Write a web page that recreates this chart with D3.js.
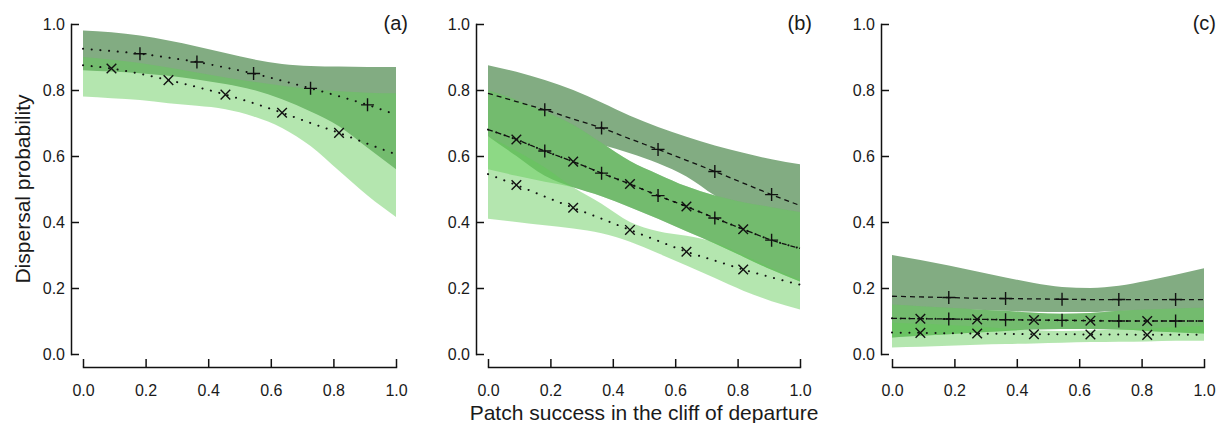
<!DOCTYPE html>
<html>
<head>
<meta charset="utf-8">
<script src="https://cdn.jsdelivr.net/npm/d3@7"></script>
<style>
  html, body { margin: 0; padding: 0; background: #fff; }
  svg { display: block; }
  text { font-family: "Liberation Sans", Arial, Helvetica, sans-serif; fill: #1a1a1a; }
</style>
</head>
<body>
<svg id="chart" width="1225" height="423"></svg>
<script>
// ---------- data ----------
const xGrid = [0, 0.091, 0.182, 0.273, 0.364, 0.455, 0.545, 0.636, 0.727, 0.818, 0.909, 1.0];
const plusMarkerIdx = [2, 4, 6, 8, 10];
const crossMarkerIdx = [1, 3, 5, 7, 9];
const xTicks = [0, 0.2, 0.4, 0.6, 0.8, 1.0];
const yTicks = [0, 0.2, 0.4, 0.6, 0.8, 1.0];
const panelLabels = ["(a)", "(b)", "(c)"];

// panel (a)
const aPlusDotMean  = [0.925, 0.918, 0.910, 0.898, 0.885, 0.868, 0.850, 0.828, 0.805, 0.781, 0.755, 0.725];
const aPlusDotHi    = [0.980, 0.975, 0.965, 0.950, 0.932, 0.912, 0.893, 0.879, 0.873, 0.871, 0.870, 0.870];
const aPlusDotLo    = [0.860, 0.856, 0.851, 0.843, 0.832, 0.818, 0.800, 0.772, 0.735, 0.690, 0.625, 0.560];
const aCrossDotMean = [0.875, 0.865, 0.849, 0.830, 0.809, 0.786, 0.760, 0.731, 0.700, 0.670, 0.637, 0.605];
const aCrossDotHi   = [0.900, 0.892, 0.882, 0.868, 0.853, 0.838, 0.825, 0.813, 0.803, 0.796, 0.792, 0.790];
const aCrossDotLo   = [0.780, 0.775, 0.770, 0.760, 0.752, 0.742, 0.720, 0.685, 0.630, 0.555, 0.480, 0.415];

// panel (b)
const bPlusDashMean  = [0.790, 0.765, 0.740, 0.712, 0.685, 0.652, 0.620, 0.587, 0.553, 0.518, 0.483, 0.450];
const bPlusDashHi    = [0.875, 0.855, 0.830, 0.800, 0.762, 0.722, 0.688, 0.658, 0.632, 0.610, 0.590, 0.575];
const bPlusDashLo    = [0.720, 0.700, 0.678, 0.655, 0.634, 0.608, 0.578, 0.538, 0.480, 0.430, 0.390, 0.350];
const bPlusDotMean   = [0.680, 0.650, 0.615, 0.583, 0.548, 0.515, 0.480, 0.447, 0.412, 0.378, 0.345, 0.320];
const bPlusDotHi     = [0.800, 0.770, 0.735, 0.695, 0.640, 0.585, 0.545, 0.508, 0.480, 0.460, 0.445, 0.430];
const bPlusDotLo     = [0.660, 0.600, 0.540, 0.505, 0.478, 0.445, 0.410, 0.372, 0.335, 0.295, 0.255, 0.220];
const bCrossDashMean = [0.680, 0.650, 0.615, 0.583, 0.548, 0.515, 0.480, 0.447, 0.412, 0.378, 0.345, 0.320];
const bCrossDashHi   = [0.800, 0.770, 0.735, 0.695, 0.640, 0.585, 0.545, 0.508, 0.480, 0.460, 0.445, 0.430];
const bCrossDashLo   = [0.560, 0.540, 0.522, 0.505, 0.478, 0.445, 0.410, 0.372, 0.335, 0.295, 0.255, 0.220];
const bCrossDotMean  = [0.545, 0.512, 0.477, 0.443, 0.410, 0.376, 0.343, 0.310, 0.283, 0.256, 0.232, 0.210];
const bCrossDotHi    = [0.660, 0.615, 0.565, 0.505, 0.455, 0.400, 0.372, 0.358, 0.338, 0.300, 0.260, 0.225];
const bCrossDotLo    = [0.410, 0.400, 0.390, 0.380, 0.366, 0.340, 0.305, 0.268, 0.230, 0.192, 0.160, 0.135];

// panel (c)
const cPlusDashMean  = [0.175, 0.173, 0.171, 0.169, 0.168, 0.167, 0.166, 0.165, 0.165, 0.165, 0.165, 0.165];
const cPlusDashHi    = [0.300, 0.285, 0.268, 0.250, 0.232, 0.215, 0.203, 0.200, 0.207, 0.222, 0.240, 0.260];
const cPlusDashLo    = [0.145, 0.142, 0.138, 0.134, 0.131, 0.128, 0.127, 0.127, 0.130, 0.132, 0.134, 0.136];
const cPlusDotMean   = [0.108, 0.107, 0.106, 0.105, 0.104, 0.103, 0.102, 0.101, 0.100, 0.100, 0.100, 0.100];
const cPlusDotHi     = [0.150, 0.145, 0.140, 0.135, 0.131, 0.125, 0.122, 0.124, 0.131, 0.135, 0.138, 0.140];
const cPlusDotLo     = [0.050, 0.055, 0.060, 0.065, 0.070, 0.074, 0.076, 0.076, 0.074, 0.070, 0.066, 0.062];
const cCrossDashMean = [0.108, 0.107, 0.106, 0.105, 0.104, 0.103, 0.102, 0.101, 0.100, 0.100, 0.100, 0.100];
const cCrossDashHi   = [0.150, 0.145, 0.140, 0.135, 0.131, 0.125, 0.122, 0.124, 0.131, 0.135, 0.138, 0.140];
const cCrossDashLo   = [0.050, 0.055, 0.060, 0.065, 0.070, 0.074, 0.076, 0.076, 0.074, 0.070, 0.066, 0.062];
const cCrossDotMean  = [0.065, 0.064, 0.063, 0.062, 0.061, 0.060, 0.060, 0.059, 0.059, 0.058, 0.058, 0.058];
const cCrossDotHi    = [0.095, 0.092, 0.088, 0.083, 0.077, 0.072, 0.070, 0.071, 0.075, 0.078, 0.082, 0.085];
const cCrossDotLo    = [0.020, 0.022, 0.025, 0.028, 0.030, 0.032, 0.034, 0.036, 0.037, 0.038, 0.040, 0.040];

// ---------- configuration built from the arrays ----------
const panels = [
  { label: panelLabels[0], yAxisX: 71, x0: 83, x1: 396, series: [
    { marker: "plus",  line: "dot",  mean: aPlusDotMean,  lo: aPlusDotLo,  hi: aPlusDotHi },
    { marker: "cross", line: "dot",  mean: aCrossDotMean, lo: aCrossDotLo, hi: aCrossDotHi } ] },
  { label: panelLabels[1], yAxisX: 476, x0: 488, x1: 800, series: [
    { marker: "plus",  line: "dash", mean: bPlusDashMean,  lo: bPlusDashLo,  hi: bPlusDashHi },
    { marker: "plus",  line: "dot",  mean: bPlusDotMean,   lo: bPlusDotLo,   hi: bPlusDotHi },
    { marker: "cross", line: "dash", mean: bCrossDashMean, lo: bCrossDashLo, hi: bCrossDashHi },
    { marker: "cross", line: "dot",  mean: bCrossDotMean,  lo: bCrossDotLo,  hi: bCrossDotHi } ] },
  { label: panelLabels[2], yAxisX: 881, x0: 892, x1: 1204, series: [
    { marker: "plus",  line: "dash", mean: cPlusDashMean,  lo: cPlusDashLo,  hi: cPlusDashHi },
    { marker: "plus",  line: "dot",  mean: cPlusDotMean,   lo: cPlusDotLo,   hi: cPlusDotHi },
    { marker: "cross", line: "dash", mean: cCrossDashMean, lo: cCrossDashLo, hi: cCrossDashHi },
    { marker: "cross", line: "dot",  mean: cCrossDotMean,  lo: cCrossDotLo,  hi: cCrossDotHi } ] }
];

const plusBandColor = "rgb(130,172,130)";
const crossBandColor = "rgb(99,203,88)";
const crossBandOpacity = 0.48;

const svg = d3.select("#chart");
const yTop = 24, yBottom = 354, xAxisY = 367;

panels.forEach(p => {
  const x = d3.scaleLinear().domain([0, 1]).range([p.x0, p.x1]);
  const y = d3.scaleLinear().domain([0, 1]).range([yBottom, yTop]);
  const g = svg.append("g");

  const area = (s) => d3.area()
    .x((d, i) => x(xGrid[i]))
    .y0((d, i) => y(s.lo[i]))
    .y1((d, i) => y(s.hi[i]))
    .curve(d3.curveMonotoneX)(xGrid);

  // bands: plus bands (opaque) first, then cross bands (translucent)
  p.series.filter(s => s.marker === "plus").forEach(s => {
    g.append("path").attr("d", area(s)).attr("fill", plusBandColor);
  });
  p.series.filter(s => s.marker === "cross").forEach(s => {
    g.append("path").attr("d", area(s)).attr("fill", crossBandColor).attr("fill-opacity", crossBandOpacity);
  });

  // lines
  p.series.forEach(s => {
    const lg = d3.line().x((d, i) => x(xGrid[i])).y((d, i) => y(s.mean[i])).curve(d3.curveMonotoneX);
    const path = g.append("path").attr("d", lg(xGrid)).attr("fill", "none").attr("stroke", "#111");
    if (s.line === "dot") {
      path.attr("stroke-width", 2).attr("stroke-linecap", "round").attr("stroke-dasharray", "0.1,8.6");
    } else {
      path.attr("stroke-width", 1.3).attr("stroke-dasharray", "5,4");
    }
  });

  // markers
  p.series.forEach(s => {
    const idx = s.marker === "plus" ? plusMarkerIdx : crossMarkerIdx;
    const sym = s.marker === "plus" ? "M-6.5,0H6.5M0,-6.5V6.5" : "M-4.8,-4.8L4.8,4.8M-4.8,4.8L4.8,-4.8";
    g.selectAll(null).data(idx).enter().append("path")
      .attr("transform", i => `translate(${x(xGrid[i])},${y(s.mean[i])})`)
      .attr("d", sym).attr("fill", "none").attr("stroke", "#111").attr("stroke-width", 1.4);
  });

  // y axis
  const ya = g.append("g").attr("transform", `translate(${p.yAxisX},0)`)
    .call(d3.axisLeft(y).tickValues(yTicks).tickFormat(d3.format(".1f"))
      .tickSizeInner(-8).tickSizeOuter(0).tickPadding(6));
  ya.selectAll("path, line").attr("stroke", "#111").attr("stroke-width", 1.5);
  ya.selectAll("text").attr("font-size", 16).attr("dy", "0.35em");

  // x axis
  const xa = g.append("g").attr("transform", `translate(0,${xAxisY})`)
    .call(d3.axisBottom(x).tickValues(xTicks).tickFormat(d3.format(".1f"))
      .tickSizeInner(-8).tickSizeOuter(0).tickPadding(18));
  xa.selectAll("path, line").attr("stroke", "#111").attr("stroke-width", 1.5);
  xa.selectAll("text").attr("font-size", 16);
  g.selectAll(".domain").attr("stroke-linecap", "square");

  // panel label
  g.append("text").attr("x", p.x1 + 12).attr("y", 30).attr("text-anchor", "end")
    .attr("font-size", 20).text(p.label);
});

// axis titles
svg.append("text").attr("transform", "translate(30,189) rotate(-90)")
  .attr("text-anchor", "middle").attr("font-size", 21).text("Dispersal probability");
svg.append("text").attr("x", 644).attr("y", 420).attr("text-anchor", "middle")
  .attr("font-size", 21).text("Patch success in the cliff of departure");
</script>
</body>
</html>
